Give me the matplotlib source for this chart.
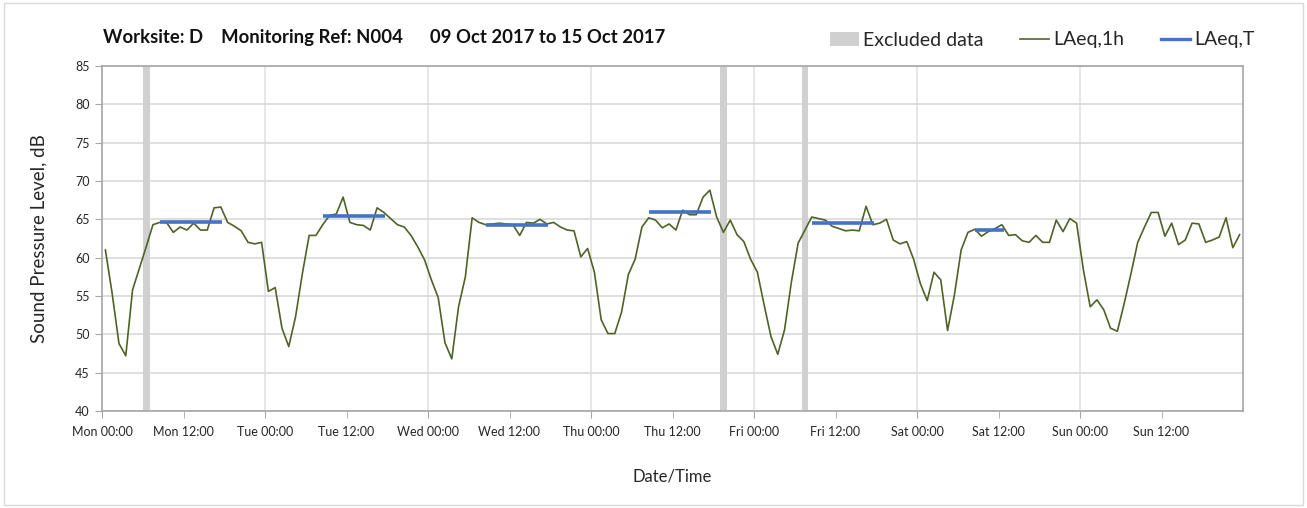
import matplotlib
matplotlib.use('Agg')
import matplotlib.pyplot as plt
import matplotlib.dates as mdates
from matplotlib.patches import Patch, Rectangle
from matplotlib.lines import Line2D
import pandas as pd

plt.rcParams['font.family'] = ['Lato', 'DejaVu Sans']

# hourly LAeq values, Mon 09 Oct 2017 00:00 -> Sun 15 Oct 2017 24:00
laeq_1h = [
    61.0, 55.3, 48.8, 47.2, 55.8, 58.6, 61.4, 64.3, 64.6, 64.6, 63.3, 64.0,
    63.6, 64.5, 63.6, 63.6, 66.5, 66.6, 64.6, 64.1, 63.5, 62.0, 61.8, 62.0,
    55.6, 56.1, 50.8, 48.4, 52.3, 57.9, 62.9, 62.9, 64.3, 65.5, 65.7, 67.9,
    64.6, 64.3, 64.2, 63.6, 66.5, 65.9, 65.1, 64.3, 64.0, 62.9, 61.4, 59.7,
    57.1, 54.8, 48.9, 46.8, 53.6, 57.5, 65.2, 64.6, 64.3, 64.4, 64.5, 64.4,
    64.3, 62.9, 64.6, 64.5, 65.0, 64.4, 64.6, 64.0, 63.6, 63.5, 60.1, 61.2,
    58.1, 51.9, 50.1, 50.1, 52.9, 57.8, 59.8, 64.0, 65.2, 64.9, 63.9, 64.4,
    63.6, 66.2, 65.6, 65.6, 67.9, 68.8, 65.3, 63.3, 64.9, 63.0, 62.1, 59.8,
    58.1, 53.8, 49.7, 47.4, 50.6, 56.8, 61.9, 63.6, 65.3, 65.1, 64.9, 64.1,
    63.8, 63.5, 63.6, 63.5, 66.7, 64.3, 64.5, 65.0, 62.3, 61.8, 62.1, 59.8,
    56.6, 54.4, 58.1, 57.1, 50.5, 55.1, 61.0, 63.3, 63.7, 62.8, 63.4, 63.8,
    64.3, 62.9, 63.0, 62.2, 62.0, 62.9, 62.0, 62.0, 64.9, 63.4, 65.1, 64.5,
    58.4, 53.6, 54.5, 53.2, 50.8, 50.4, 54.0, 57.9, 62.0, 64.0, 65.9, 65.9,
    62.8, 64.5, 61.7, 62.3, 64.5, 64.4, 62.0, 62.3, 62.7, 65.2, 61.3, 63.0,
]
times = pd.date_range('2017-10-09 00:30', periods=len(laeq_1h), freq='h')

# daytime LAeq,T periods
laeq_t_start = ['2017-10-09 08:30', '2017-10-10 08:30', '2017-10-11 08:30',
                '2017-10-12 08:30', '2017-10-13 08:30', '2017-10-14 08:30']
laeq_t_end = ['2017-10-09 17:40', '2017-10-10 17:40', '2017-10-11 17:40',
              '2017-10-12 17:40', '2017-10-13 17:40', '2017-10-14 12:45']
laeq_t = [64.6, 65.5, 64.3, 65.9, 64.5, 63.6]

# excluded hours
excl_start = ['2017-10-09 06:00', '2017-10-12 19:00', '2017-10-13 07:00']
excl_end = ['2017-10-09 07:00', '2017-10-12 20:00', '2017-10-13 08:00']

green = '#4F6228'
blue = '#4472C4'
grey = '#D0D0D0'
txt = '#262626'

fig = plt.figure(figsize=(13.07, 5.08), dpi=100)
ax = fig.add_axes([102 / 1307, 1 - 411 / 508, (1243 - 102) / 1307, (411 - 66) / 508])

for s, e in zip(excl_start, excl_end):
    ax.axvspan(pd.Timestamp(s), pd.Timestamp(e), color=grey, lw=0, zorder=1)

ax.plot(times, laeq_1h, color=green, lw=1.2, zorder=3)
for s, e, v in zip(laeq_t_start, laeq_t_end, laeq_t):
    ax.plot([pd.Timestamp(s), pd.Timestamp(e)], [v, v], color=blue, lw=2.6,
            solid_capstyle='butt', zorder=4)

ax.set_xlim(pd.Timestamp('2017-10-09 00:00'), pd.Timestamp('2017-10-16 00:00'))
ax.set_ylim(40, 85)
ax.set_yticks(range(40, 86, 5))

ax.xaxis.set_major_locator(mdates.HourLocator(byhour=[0]))
ax.xaxis.set_minor_locator(mdates.HourLocator(byhour=[12]))
ax.xaxis.set_minor_formatter(mdates.DateFormatter('%a %H:%M'))
# last day boundary is the right edge, no label there
ax.set_xticks(list(ax.get_xticks())[:-1])
ax.xaxis.set_major_formatter(mdates.DateFormatter('%a %H:%M'))

ax.grid(axis='y', color='#D9D9D9', lw=1.2, zorder=0)
ax.grid(axis='x', which='major', color='#E3E3E3', lw=1.2, zorder=0)
ax.set_axisbelow(True)

for sp in ax.spines.values():
    sp.set_color('#A6A6A6')
    sp.set_linewidth(1.2)

ax.tick_params(axis='both', which='both', direction='out', length=5,
               color='#A6A6A6', labelcolor=txt, labelsize=9)
ax.tick_params(axis='x', which='both', pad=6)
ax.tick_params(axis='y', pad=4)

ax.set_ylabel('Sound Pressure Level, dB', fontsize=13.5, color=txt, labelpad=20)
ax.set_xlabel('Date/Time', fontsize=12, color=txt, labelpad=22)

fig.text(103 / 1307, 1 - 37 / 508,
         'Worksite: D    Monitoring Ref: N004      09 Oct 2017 to 15 Oct 2017',
         fontsize=13.3, fontweight='bold', color='#111111', va='center')

handles = [Patch(facecolor=grey, edgecolor='none', label='Excluded data'),
           Line2D([], [], color=green, lw=1.2, label='LAeq,1h'),
           Line2D([], [], color=blue, lw=2.4, label='LAeq,T')]
fig.legend(handles=handles, loc='center right', bbox_to_anchor=(1272 / 1307, 1 - 40 / 508),
           ncol=3, frameon=False, fontsize=14, handlelength=1.5, handletextpad=0.2,
           columnspacing=1.9, labelcolor=txt)

fig.patches.append(Rectangle((4 / 1307, 3 / 508), 1 - 8 / 1307, 1 - 6 / 508,
                             transform=fig.transFigure, fill=False,
                             edgecolor='#D9D9D9', lw=1))

fig.savefig('out.png', dpi=100)
